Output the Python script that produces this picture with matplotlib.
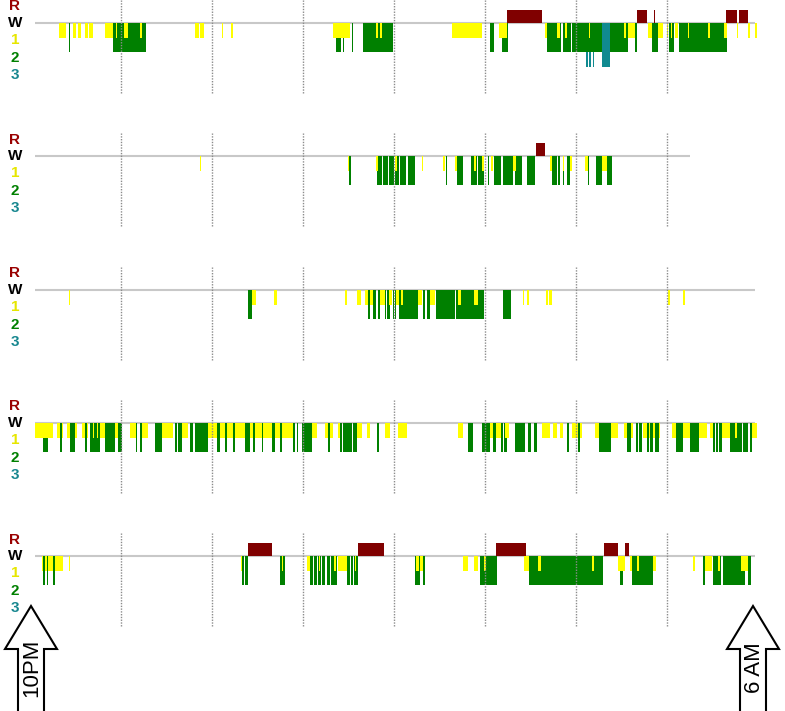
import matplotlib
matplotlib.use("Agg")
import matplotlib.pyplot as plt
from matplotlib.patches import Polygon

plt.rcParams['font.family'] = ['Liberation Sans', 'DejaVu Sans']

# sleep stage segments, minutes after 10PM: (start, end)
# night 1
n1_s1 = [(19.1, 21.5), (22.0, 23.7), (28.4, 30.3), (31.6, 33.6), (36.3, 38.5), (39.0, 41.5),
         (49.5, 54.7), (56.7, 57.4), (62.0, 64.6), (72.5, 73.8), (108.8, 111.4), (112.4, 114.7),
         (126.6, 127.3), (132.5, 133.8), (199.8, 211.0), (228.1, 229.5), (230.5, 231.8),
         (278.2, 298.0), (309.0, 314.5), (339.6, 340.9), (347.5, 349.5), (352.5, 354.0),
         (368.6, 369.2), (391.6, 393.0), (394.3, 398.9), (407.5, 410.1), (414.1, 417.4),
         (420.0, 420.7), (422.5, 423.2), (425.3, 427.3), (433.8, 434.5), (447.0, 448.4),
         (457.6, 459.6), (466.2, 467.0), (473.4, 474.7), (478.0, 479.3)]
n1_s2 = [(25.5, 26.3), (54.7, 76.5), (201.8, 205.1), (206.3, 207.0), (212.0, 212.7),
         (219.6, 239.3), (303.3, 305.9), (311.2, 315.2), (340.9, 350.1), (351.4, 356.7),
         (357.4, 376.9), (382.4, 394.3), (398.9, 400.2), (410.1, 414.1), (421.3, 424.6),
         (427.9, 459.6)]
n1_s3 = [(366.6, 367.6), (368.9, 369.6), (370.9, 371.9), (376.9, 382.4)]
n1_rem = [(314.5, 337.6), (400.2, 406.8), (411.4, 412.2), (458.9, 466.2), (467.5, 473.4)]

# night 2
n2_s1 = [(112.1, 112.8), (209.6, 210.3), (228.1, 229.5), (240.7, 242.0), (258.5, 259.2),
         (272.3, 273.6), (280.2, 281.5), (292.7, 294.1), (298.0, 299.3), (304.0, 305.3),
         (318.5, 320.4), (342.9, 344.2), (351.4, 352.4), (356.0, 357.4), (365.9, 367.9),
         (377.1, 380.4)]
n2_s2 = [(210.3, 211.6), (228.8, 232.1), (232.7, 236.0), (236.7, 240.0), (240.7, 243.3),
         (244.0, 247.9), (249.2, 253.8), (274.3, 274.9), (281.5, 285.5), (290.8, 294.7),
         (295.4, 299.3), (302.0, 302.6), (305.9, 310.5), (311.9, 318.5), (319.8, 324.4),
         (327.7, 333.0), (344.2, 347.5), (348.1, 349.5), (351.4, 352.1), (354.1, 356.0),
         (367.9, 368.6), (373.2, 377.1), (380.4, 383.7)]
n2_s3 = []
n2_rem = [(333.6, 339.6)]

# night 3
n3_s1 = [(25.7, 26.4), (146.4, 149.0), (160.9, 162.9), (207.7, 209.0), (215.6, 218.3),
         (220.9, 222.9), (224.2, 226.2), (230.8, 234.1), (236.7, 238.7), (241.3, 243.3),
         (244.6, 245.9), (255.8, 258.5), (263.7, 267.0), (282.2, 284.2), (292.7, 295.4),
         (325.0, 325.7), (327.7, 329.0), (340.2, 341.5), (342.2, 344.2), (420.7, 422.0),
         (430.5, 431.9)]
n3_s2 = [(143.7, 146.4), (222.9, 224.2), (226.2, 228.1), (229.5, 230.8), (234.1, 234.7),
         (235.4, 237.4), (239.3, 240.0), (240.7, 241.3), (243.3, 255.8), (259.1, 260.4),
         (261.7, 263.7), (267.7, 280.2), (280.9, 299.3), (311.9, 317.1)]
n3_s3 = []
n3_rem = []

# night 4
n4_s1 = [(3.3, 15.2), (17.8, 19.8), (21.1, 21.8), (24.4, 26.4), (29.7, 31.0), (34.3, 36.3),
         (37.6, 38.2), (41.5, 42.2), (44.2, 44.8), (46.2, 49.5), (56.0, 58.0), (65.9, 69.9),
         (73.8, 77.8), (87.0, 94.3), (100.2, 104.2), (117.4, 123.3), (125.3, 128.6),
         (129.9, 133.8), (135.2, 141.8), (145.1, 147.0), (148.4, 153.0), (153.6, 159.6),
         (161.5, 164.8), (166.2, 173.4), (185.9, 189.2), (194.5, 196.5), (197.8, 199.8),
         (203.1, 204.4), (215.6, 218.9), (222.2, 224.2), (234.1, 237.4), (242.6, 248.6),
         (282.2, 285.5), (303.3, 305.3), (307.3, 310.5), (313.2, 315.8), (337.6, 342.9),
         (344.8, 347.5), (349.5, 351.4), (357.4, 361.3), (362.6, 364.0), (372.5, 375.2),
         (383.1, 387.7), (391.6, 393.6), (396.3, 397.6), (404.2, 406.8), (408.1, 408.8),
         (410.8, 412.1), (414.7, 415.4), (423.3, 425.9), (430.5, 435.2), (441.1, 446.4),
         (448.4, 450.3), (456.3, 461.5), (464.8, 466.2), (476.0, 479.3)]
n4_s2 = [(8.6, 11.9), (19.8, 21.1), (26.4, 29.7), (36.3, 37.6), (39.6, 46.2), (49.5, 56.0),
         (58.0, 60.7), (69.9, 70.5), (72.5, 73.8), (82.4, 87.0), (95.6, 96.9), (97.6, 100.2),
         (105.5, 107.5), (108.8, 117.4), (123.3, 125.3), (128.6, 129.9), (133.8, 135.2),
         (141.8, 145.1), (147.0, 148.4), (153.0, 153.6), (159.6, 161.5), (164.8, 166.2),
         (173.4, 174.7), (176.0, 176.7), (179.3, 185.9), (196.5, 197.8), (204.4, 205.7),
         (206.4, 212.3), (213.0, 215.6), (228.8, 230.1), (288.8, 292.1), (298.0, 303.3),
         (305.3, 307.3), (310.5, 311.9), (312.5, 314.5), (319.8, 326.4), (328.4, 330.3),
         (332.3, 334.3), (354.1, 355.4), (361.3, 362.6), (375.2, 383.1), (393.6, 396.3),
         (399.6, 400.9), (401.5, 403.5), (406.8, 408.1), (408.8, 410.8), (412.1, 414.7),
         (425.9, 430.5), (435.2, 441.1), (450.3, 451.6), (452.3, 453.6), (454.3, 456.3),
         (461.5, 469.5), (470.1, 473.4), (474.7, 476.0)]
n4_s3 = []
n4_rem = []

# night 5
n5_s1 = [(7.9, 8.6), (9.9, 11.2), (11.9, 15.2), (16.5, 21.8), (25.7, 26.4), (139.1, 139.8),
         (166.2, 166.8), (182.6, 184.6), (190.5, 191.2), (200.4, 201.8), (203.1, 209.0),
         (214.3, 215.0), (254.8, 256.2), (257.1, 259.1), (285.5, 288.8), (292.7, 295.4),
         (299.3, 300.7), (325.7, 329.0), (334.9, 336.9), (370.5, 371.9), (387.7, 392.3),
         (395.6, 396.9), (400.2, 401.5), (410.8, 412.7), (437.1, 438.5), (445.1, 449.7),
         (453.6, 455.0), (468.8, 473.4)]
n5_s2 = [(8.6, 9.9), (11.2, 11.9), (15.2, 16.5), (139.8, 141.1), (141.8, 143.7),
         (164.8, 168.1), (184.6, 186.6), (187.2, 189.2), (189.9, 191.9), (192.5, 194.5),
         (195.8, 197.8), (198.5, 202.4), (209.0, 211.0), (211.6, 213.0), (213.6, 216.3),
         (253.8, 257.1), (259.1, 260.4), (296.7, 307.9), (329.0, 377.8), (389.0, 391.0),
         (396.9, 410.8), (443.7, 445.1), (450.3, 455.6), (456.9, 471.4), (473.4, 475.4)]
n5_s3 = []
n5_rem = [(143.7, 159.6), (216.3, 233.4), (307.3, 327.0), (378.5, 387.7), (392.3, 394.9)]

nights = [
    (n1_s1, n1_s2, n1_s3, n1_rem),
    (n2_s1, n2_s2, n2_s3, n2_rem),
    (n3_s1, n3_s2, n3_s3, n3_rem),
    (n4_s1, n4_s2, n4_s3, n4_rem),
    (n5_s1, n5_s2, n5_s3, n5_rem),
]
rec_start = [3.3, 3.3, 3.3, 3.3, 3.3]
rec_end = [478.0, 435.2, 478.0, 478.0, 478.0]
hour_marks = [60, 120, 180, 240, 300, 360, 420]

stage_labels = ['R', 'W', '1', '2', '3']
label_colors = ['#990000', '#000000', '#e6e600', '#008000', '#17878f']
label_offsets = [16.5, 0, -17, -35, -52]  # px above the W line

W, H = 785, 711
unit = 14.5  # px per stage level
fig = plt.figure(figsize=(W / 100, H / 100), dpi=100)

# arrows at the bottom (drawn in pixel space)
bg = fig.add_axes([0, 0, 1, 1])
bg.set_xlim(0, W)
bg.set_ylim(H, 0)
bg.axis('off')


def block_arrow(cx, txt):
    pts = [(cx, 606), (cx + 26, 649), (cx + 13, 649), (cx + 13, 713),
           (cx - 13, 713), (cx - 13, 649), (cx - 26, 649)]
    bg.add_patch(Polygon(pts, closed=True, facecolor='white', edgecolor='black', lw=1.5))
    bg.text(cx + 1, 668, txt, rotation=90, ha='center', va='center', fontsize=16)


block_arrow(31, '10PM')
block_arrow(753, '6 AM')


def draw_segs(ax, segs, depth, color, z):
    if not segs:
        return
    x0 = [s[0] for s in segs]
    w = [s[1] - s[0] for s in segs]
    ax.bar(x0, [depth] * len(segs), width=w, bottom=0, align='edge',
           color=color, linewidth=0, zorder=z)


for i, (s1, s2, s3, rem) in enumerate(nights):
    yw = 23 + i * 133.25
    top_px, bot_px = yw - 23, yw + 72
    ax = fig.add_axes([30 / W, 1 - bot_px / H, 728 / W, (bot_px - top_px) / H])
    ax.set_xlim(0, 480)
    ax.set_ylim(-72 / unit, 23 / unit)
    ax.axis('off')

    ax.hlines(0, rec_start[i], rec_end[i], color='#c8c8c8', lw=1.5, zorder=1)
    draw_segs(ax, s3, -3.0, '#108a90', 2)
    draw_segs(ax, s2, -2.0, '#008000', 3)
    draw_segs(ax, s1, -1.05, '#ffff00', 4)
    draw_segs(ax, rem, 0.93, '#800000', 4)
    ax.vlines(hour_marks, -70 / unit, 23 / unit, colors='#8c8c8c',
              linestyles=(0, (1, 1)), lw=1, zorder=5)

    for lab, c, dy in zip(stage_labels, label_colors, label_offsets):
        ax.text(-9.9, dy / unit, lab, color=c, fontsize=11, fontweight='bold',
                ha='center', va='center', clip_on=False)

fig.savefig('out.png', dpi=100)
